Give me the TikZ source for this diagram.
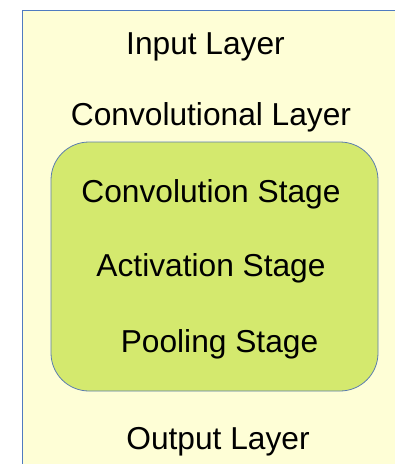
\documentclass[tikz,border=0pt]{standalone}
\usepackage{fontspec}
\setmainfont{Liberation Sans}
\definecolor{panelfill}{HTML}{FEFED6}
\definecolor{panelline}{HTML}{4F7BC0}
\definecolor{stagefill}{HTML}{D4E96E}
\definecolor{stageline}{HTML}{5B7DB0}
\tikzset{
  lbl/.style={anchor=base, inner sep=0pt, font=\fontsize{31.7pt}{36pt}\selectfont},
}
\begin{document}
\begin{tikzpicture}[x=1pt,y=1pt]
  \useasboundingbox (0,0) rectangle (395,-464);
  \fill[white] (0,0) rectangle (395,-464);
  % outer layer panel (runs past the page edge on the right and bottom)
  \path[fill=panelfill] (22.5,-10) rectangle (400,-470);
  \draw[panelline, line width=0.8pt] (22.5,-470) -- (22.5,-10) -- (400,-10);
  % convolutional block
  \draw[stageline, fill=stagefill, line width=0.8pt, rounded corners=38pt]
    (51,-142) rectangle (378,-391);
  \node[lbl] (input) at (205.5,-54) {Input Layer};
  \node[lbl] (conv)  at (211,-125) {Convolutional Layer};
  \node[lbl] (cstage) at (211,-202) {Convolution Stage};
  \node[lbl] (astage) at (211,-276) {Activation Stage};
  \node[lbl] (pstage) at (219.5,-352) {Pooling Stage};
  \node[lbl] (output) at (218,-449) {Output Layer};
\end{tikzpicture}
\end{document}
